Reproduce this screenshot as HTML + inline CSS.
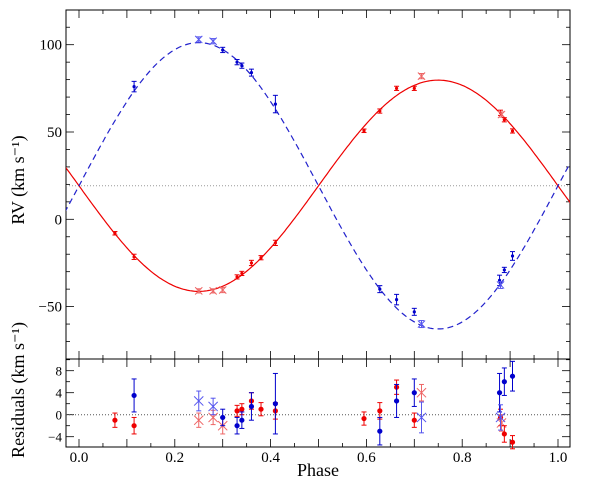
<!DOCTYPE html>
<html><head><meta charset="utf-8"><style>
body{margin:0;background:#fff}
svg text{font-family:"Liberation Serif",serif;fill:#000}
</style></head><body>
<svg id="c" width="600" height="491" viewBox="0 0 600 491"></svg>
<script>
const redPhase=[0.075,0.115,0.25,0.28,0.30,0.33,0.34,0.36,0.38,0.41,0.595,0.628,0.663,0.70,0.715,0.88,0.882,0.888,0.905];
const redRV=[-8,-21.5,-41,-41,-40.5,-33,-31,-25,-22,-13.5,50.7,62,75,75,82,61,60,57,50.6];
const redErr=[1,1.5,1.2,1.2,1.5,1.2,1.2,1.5,1.2,1.5,1,1.2,1.2,1.2,1.5,1.5,1.5,1.2,1.2];
const redCross=[0,0,1,1,1,0,0,0,0,0,0,0,0,0,1,0,1,0,0];
const bluePhase=[0.115,0.25,0.28,0.30,0.33,0.34,0.36,0.41,0.628,0.663,0.70,0.715,0.878,0.88,0.888,0.905];
const blueRV=[76,103,102,97,90,88,84,66,-40,-46,-53,-60,-35,-37.6,-29,-21];
const blueErr=[3,1.5,1.5,1.5,1.5,1.5,2,5,2,3,2,2,3,2,1.5,2.5];
const blueCross=[0,1,1,0,0,0,0,0,0,0,0,1,0,1,0,0];
const redRes=[-1,-2,-1,-0.5,-2,0.7,1,2.5,1,0.7,-0.7,0.7,5,-1,4,-0.5,-1.5,-3.5,-5];
const redResErr=[1.3,1.5,1.3,1.3,1.5,1,1,1.5,1.2,1.5,1.2,1.5,1.3,1.3,1.5,1.5,1.5,1.5,1.2];
const blueRes=[3.5,2.5,1.5,-0.5,-2,-1,1.5,2,-3,2.5,4,-0.5,4,-0.5,6,7];
const blueResErr=[3,1.8,1.5,1.5,1.5,1.5,2.5,5.5,2.5,3,2.5,2.8,3.5,2.3,2.5,2.7];
const gamma=19.2, Kred=60.5, Kblue=82;
const xTicks=[0,0.2,0.4,0.6,0.8,1.0];
const yTicks=[-50,0,50,100];
const rTicks=[-4,0,4,8];

const S=document.getElementById('c'),NS='http://www.w3.org/2000/svg';
const X0=66,X1=570,T=10,MB=359,RB=447;
const px=p=>79+p*479;
const py=v=>219.3-v*1.746;
const ry=v=>414.7-v*5.5;
function el(t,a,p){const e=document.createElementNS(NS,t);for(const k in a)e.setAttribute(k,a[k]);(p||S).appendChild(e);return e;}
function txt(s,x,y,a){const e=el('text',Object.assign({x:x,y:y},a||{}));e.textContent=s;return e;}
// frames
const f1=el('rect',{x:X0,y:T,width:X1-X0,height:MB-T,fill:'none',stroke:'#000','stroke-width':1});

const f2=el('rect',{x:X0,y:MB,width:X1-X0,height:RB-MB,fill:'none',stroke:'#000','stroke-width':1});

// x ticks
for(let i=-0;i<=20;i++){const p=i*0.05;const x=px(p);const L=(i%2==0)?8:4;
 [[T,T+L],[MB,MB-L],[MB,MB+L],[RB,RB-L]].forEach(([a,b])=>el('line',{x1:x,x2:x,y1:a,y2:b,stroke:'#000','stroke-width':0.8}));}
// y ticks main
for(let v=-70;v<=120;v+=10){const y=py(v);if(y<T||y>MB)continue;const L=(v%50==0)?8:4;
 el('line',{x1:X0,x2:X0+L,y1:y,y2:y,stroke:'#000','stroke-width':0.8});el('line',{x1:X1,x2:X1-L,y1:y,y2:y,stroke:'#000','stroke-width':0.8});}
for(let v=-4;v<=10;v+=2){const y=ry(v);const L=(v%4==0)?8:4;
 el('line',{x1:X0,x2:X0+L,y1:y,y2:y,stroke:'#000','stroke-width':0.8});el('line',{x1:X1,x2:X1-L,y1:y,y2:y,stroke:'#000','stroke-width':0.8});}
xTicks.forEach(t=>{const e=txt(t.toFixed(1),px(t),462,{'font-size':15,'text-anchor':'middle'});});
yTicks.forEach(t=>{const e=txt(t<0?'\u2212'+(-t):String(t),62,py(t)+5,{'font-size':15,'text-anchor':'end'});});
rTicks.forEach(t=>{const e=txt(t<0?'\u2212'+(-t):String(t),62,ry(t)+5,{'font-size':13,'text-anchor':'end'});});
// labels
const xl=txt('Phase',318,476,{'font-size':18,'text-anchor':'middle'});
const yl=txt('RV  (km s\u207B\u00B9)',0,0,{'font-size':18,'text-anchor':'middle',transform:'translate(24,180) rotate(-90)'});
const rl=txt('Residuals  (km s\u207B\u00B9)',0,0,{'font-size':18,'text-anchor':'middle',transform:'translate(24,390) rotate(-90)'});
// clip
const d=el('defs',{});const cp=el('clipPath',{id:'cm'},d);el('rect',{x:X0,y:T,width:X1-X0,height:MB-T},cp);
const g=el('g',{'clip-path':'url(#cm)'});
const gl=el('line',{x1:X0,x2:X1,y1:py(gamma),y2:py(gamma),stroke:'#999','stroke-dasharray':'1,2'},g);

let dr='',db='';
for(let i=0;i<=300;i++){const p=-0.03+i*1.06/300;const x=px(p);
 dr+=(i?'L':'M')+x.toFixed(1)+','+py(gamma-Kred*Math.sin(2*Math.PI*p)).toFixed(1);
 db+=(i?'L':'M')+x.toFixed(1)+','+py(gamma+Kblue*Math.sin(2*Math.PI*p)).toFixed(1);}
const cr=el('path',{d:dr,fill:'none',stroke:'#e00','stroke-width':1.2},g);
const cb=el('path',{d:db,fill:'none',stroke:'#22c','stroke-width':1.2,'stroke-dasharray':'6,4'},g);
const z=el('line',{x1:X0,x2:X1,y1:ry(0),y2:ry(0),stroke:'#555','stroke-dasharray':'1,2'});
function pt(x,y,eh,cross,col,lightCol,r,name){
 const gg=el('g',{});
 const c=cross?lightCol:col;
 el('line',{x1:x,x2:x,y1:y-eh,y2:y+eh,stroke:c,'stroke-width':1},gg);
 el('line',{x1:x-2.5,x2:x+2.5,y1:y-eh,y2:y-eh,stroke:c,'stroke-width':1},gg);
 el('line',{x1:x-2.5,x2:x+2.5,y1:y+eh,y2:y+eh,stroke:c,'stroke-width':1},gg);
 if(cross){const s=r+2;el('path',{d:`M${x-s},${y-s}L${x+s},${y+s}M${x-s},${y+s}L${x+s},${y-s}`,stroke:c,'stroke-width':1},gg);}
 else el('circle',{cx:x,cy:y,r:r,fill:c},gg);
}
redPhase.forEach((p,i)=>pt(px(p),py(redRV[i]),redErr[i]*1.746,redCross[i],'#e00','#e66',1.6,'red-rv-point'));
bluePhase.forEach((p,i)=>pt(px(p),py(blueRV[i]),blueErr[i]*1.746,blueCross[i],'#00c','#55e',1.6,'blue-rv-point'));
redPhase.forEach((p,i)=>pt(px(p),ry(redRes[i]),redResErr[i]*5.5,redCross[i],'#e00','#e66',2.6,'red-residual-point'));
bluePhase.forEach((p,i)=>pt(px(p),ry(blueRes[i]),blueResErr[i]*5.5,blueCross[i],'#00c','#55e',2.6,'blue-residual-point'));
</script>
</body></html>
